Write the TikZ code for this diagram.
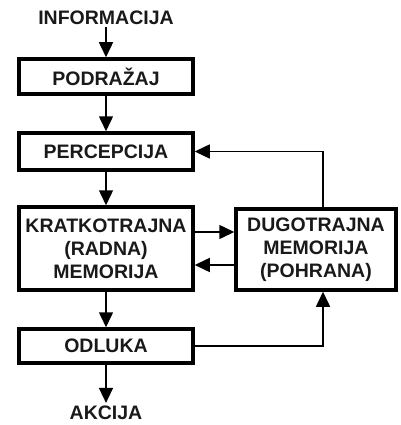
\documentclass[tikz,border=0pt]{standalone}
\usepackage{fontspec}
\setmainfont{Liberation Sans}
\usetikzlibrary{arrows.meta}
\begin{document}
\begin{tikzpicture}[x=1pt,y=-1pt,
  box/.style={draw=black,line width=3.5pt,minimum width=174pt,inner sep=0pt,align=center,
    font=\fontsize{19.5}{23}\selectfont\bfseries,text=black!90},
  lbl/.style={inner sep=0pt,font=\fontsize{19.5}{23}\selectfont\bfseries,text=black!90},
  arr/.style={line width=1.5pt,-{Triangle[length=15pt,width=14pt]}}]
\useasboundingbox (0,0) rectangle (400,425);
\node[lbl] (inf) at (106,18) {INFORMACIJA};
\node[box,minimum height=35pt] (po) at (106,76.5) {PODRAŽAJ};
\node[box,minimum height=37pt] (pe) at (106,151.5) {PERCEPCIJA};
\node[box,minimum height=83pt] (kr) at (106,248.5) {KRATKOTRAJNA\\(RADNA)\\MEMORIJA};
\node[box,minimum height=34pt] (od) at (106,346) {ODLUKA};
\node[box,minimum width=160pt,minimum height=81pt] (dg) at (316,249.5) {DUGOTRAJNA\\MEMORIJA\\(POHRANA)};
\node[lbl] (ak) at (106,413) {AKCIJA};
\coordinate (fx) at (323,0);
\coordinate (ya) at (0,232);
\coordinate (yb) at (0,265);
\draw[arr] (inf.south) ++(0,2) -- (po.north);
\draw[arr] (po.south) -- (pe.north);
\draw[arr] (pe.south) -- (kr.north);
\draw[arr] (kr.south) -- (od.north);
\draw[arr] (od.south) -- ([yshift=3pt]ak.north);
\draw[arr] (kr.east |- ya) -- (dg.west |- ya);
\draw[arr] (dg.west |- yb) -- (kr.east |- yb);
\draw[arr] (dg.north -| fx) |- (pe.east);
\draw[arr] (od.east) -| (dg.south -| fx);
\end{tikzpicture}
\end{document}
